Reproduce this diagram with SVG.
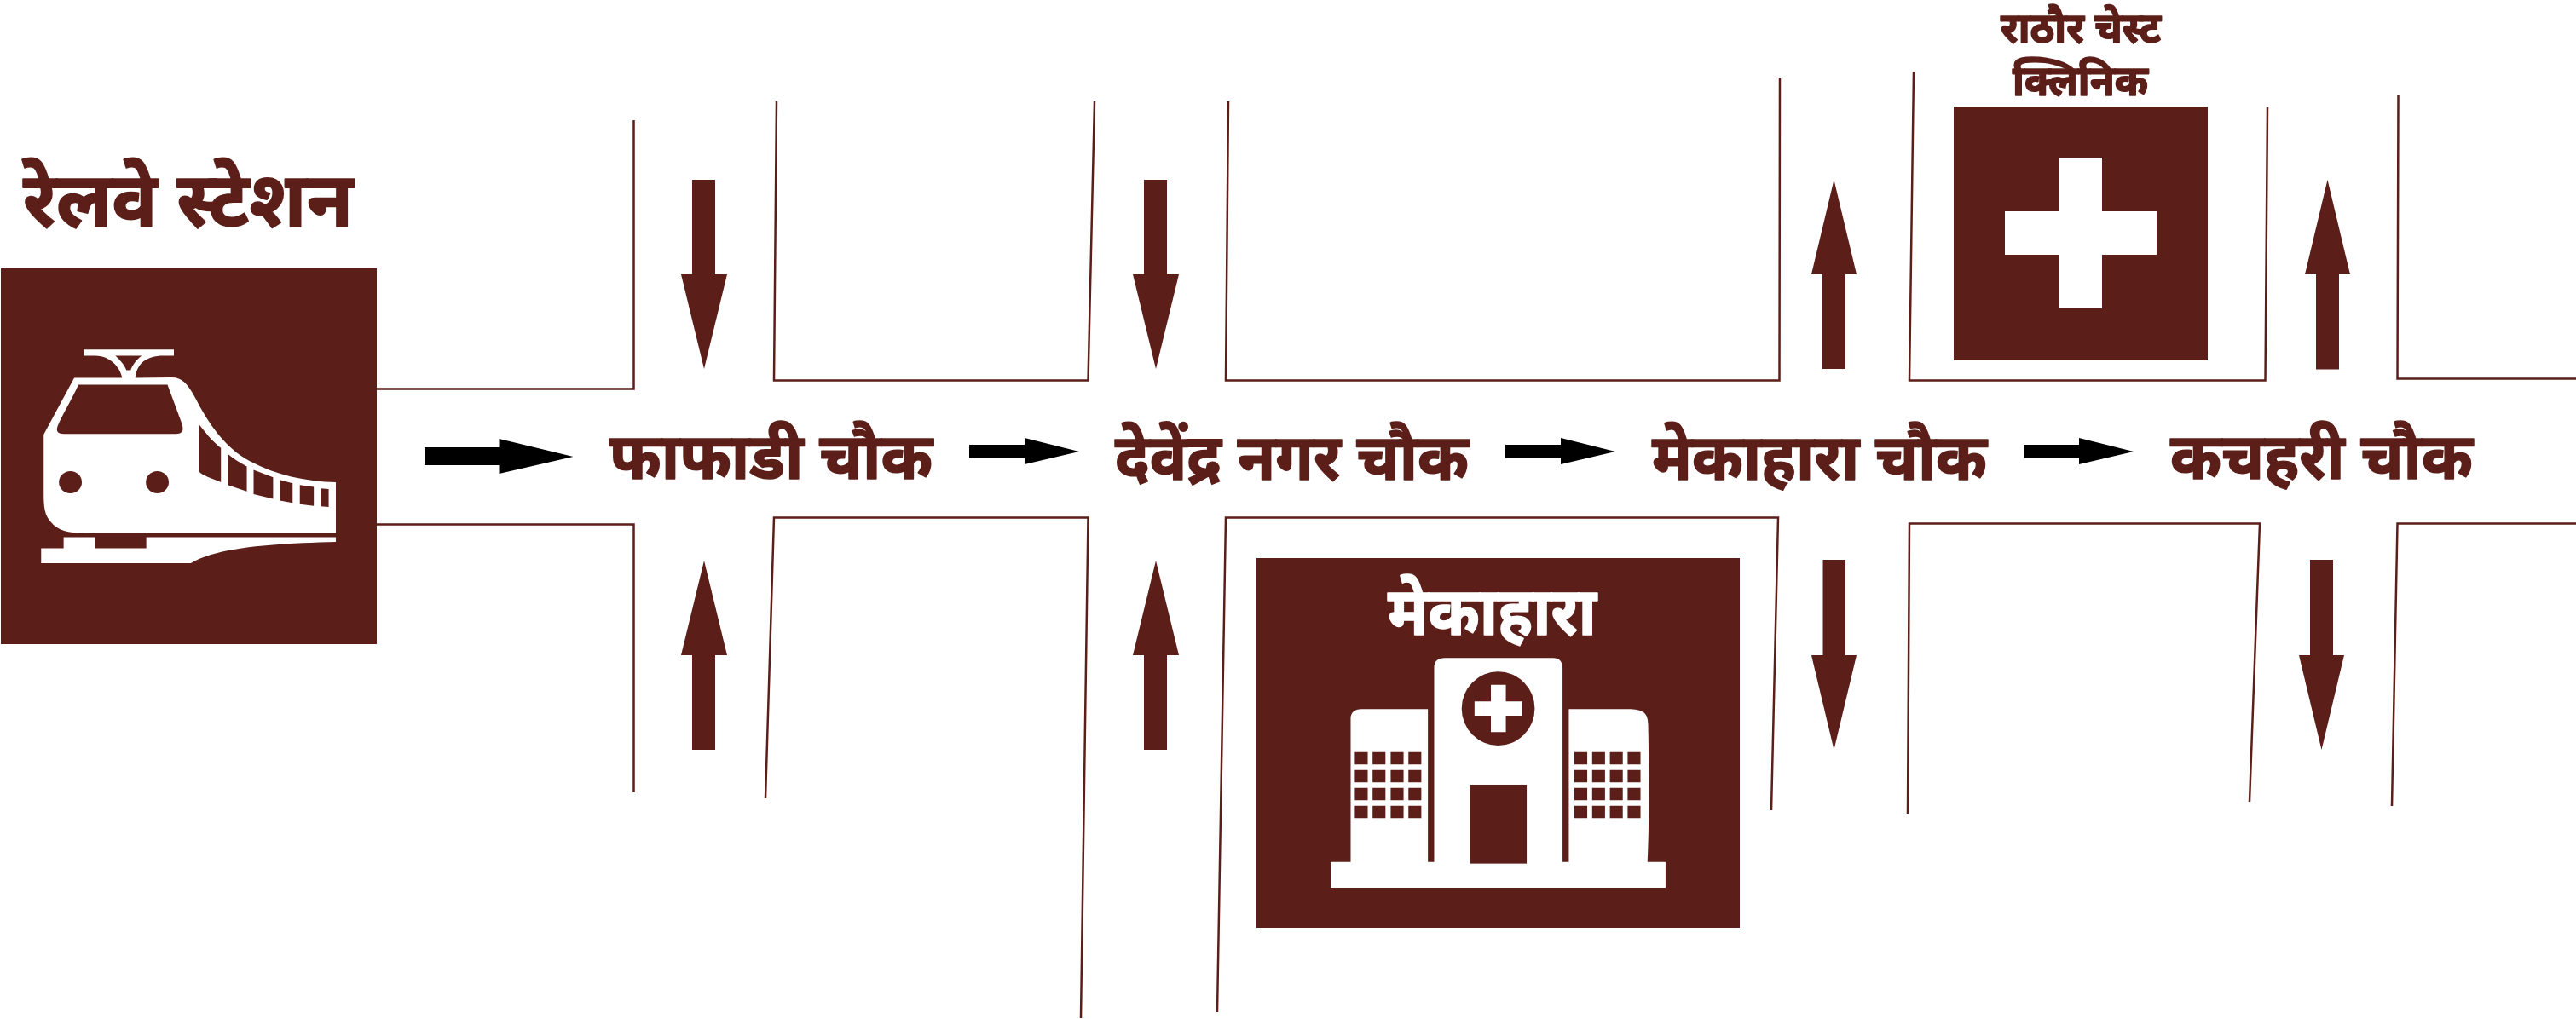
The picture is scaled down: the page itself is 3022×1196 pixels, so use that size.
<svg xmlns="http://www.w3.org/2000/svg" width="3022" height="1196" viewBox="0 0 3022 1196">
<style>
.bg{fill:#fff}
.d{fill:#5b1e18}
.w{fill:#fff}
.k{fill:#000}
.r{fill:none;stroke:#5b1e18;stroke-width:2.5;stroke-linejoin:miter}
text{font-family:"Noto Sans Devanagari","Lohit Devanagari","Noto Sans","Liberation Sans",sans-serif;font-weight:700;text-anchor:start;stroke-width:1.6;stroke-linejoin:round}
.t{fill:#5b1e18;stroke:#5b1e18}
.tw{fill:#fff;stroke:#fff}
</style>
<defs>
<path id="ad" d="M812 211H839V322H853L826 433L799 322H812Z"/>
<path id="au" d="M812 880H839V769H853L826 658L799 769H812Z"/>
<path id="ar" d="M1137 522H1202V514L1266 530L1202 545V537.500H1137Z"/>
</defs>
<rect class="bg" width="3022" height="1196"/>
<g id="roads">
<path class="r" d="M441 456.500H743.500V141"/>
<path class="r" d="M441 615.500H743.500V930"/>
<path class="r" d="M911 119L908 446.500H1276.500L1284 119"/>
<path class="r" d="M898 937L908 607.500H1276.500L1268 1195"/>
<path class="r" d="M1441 119L1438 446.500H2087.500L2088 91"/>
<path class="r" d="M1428 1188L1438 607.500H2086L2078 951"/>
<path class="r" d="M2245 84L2240 446.500H2657.500L2660 126"/>
<path class="r" d="M2238 955L2240 614.500H2651L2639 941"/>
<path class="r" d="M2813.500 112L2812.500 444.500H3022"/>
<path class="r" d="M2806 946L2812.500 614.500H3022"/>
</g>
<g id="connectors">
<use href="#ad" class="d"/>
<use href="#ad" class="d" x="530"/>
<use href="#au" class="d"/>
<use href="#au" class="d" x="530"/>
<path class="d" d="M2138 433H2165V322H2178L2151.500 211L2125 322H2138Z"/>
<path class="d" d="M2717 433.500H2744V322H2757L2730.500 211L2704 322H2717Z"/>
<path class="d" d="M2138.500 657H2165V769H2178L2151.500 880L2125 769H2138.500Z"/>
<path class="d" d="M2710 657H2737V769H2750L2723.500 880L2697 769H2710Z"/>
<path class="k" d="M498 525H585.500V515L672.500 536L585.500 556V546H498Z"/>
<use href="#ar" class="k"/>
<use href="#ar" class="k" x="629"/>
<use href="#ar" class="k" x="1237"/>
</g>
<g id="station">
<text class="t" x="27" y="266" font-size="90" textLength="387" lengthAdjust="spacingAndGlyphs">रेलवे स्टेशन</text>
<rect class="d" x="1" y="315" width="441" height="441"/>
<g transform="translate(0 160) scale(.4975 .3954)">
<path class="w" d="M197 633H410V651H385C345 651 322 675 319 717L405 716C430 716 442 735 460 775C490 850 530 925 590 965C650 1005 720 1025 792 1027V1177H220C170 1180 140 1175 120 1145C105 1125 103 1100 103 1060V885L175 717H288C285 690 262 651 225 651H197Z"/>
<path class="d" d="M272 651H334C320 665 312 680 308 694H298C292 675 282 663 272 651Z"/>
<path class="d" d="M185 737H395L428 850C435 875 430 883 415 883H150C135 883 132 875 136 860C145 830 170 780 185 737Z"/>
<ellipse class="d" cx="166" cy="1027" rx="27" ry="33"/>
<ellipse class="d" cx="371" cy="1027" rx="27" ry="33"/>
<path class="d" d="M469 855C485 880 500 905 521 925V1027C500 1015 480 1008 469 995Z"/>
<path class="d" d="M537 943C550 958 565 968 582 980V1054L537 1035Z"/>
<path class="d" d="M598 990L644 1012V1076L598 1062Z"/>
<path class="d" d="M660 1020L690 1030V1088L660 1081Z"/>
<path class="d" d="M707 1035L740 1041V1097L707 1092Z"/>
<path class="d" d="M756 1045L775 1047V1100L756 1098Z"/>
<path class="w" d="M150 1190H225V1223H345V1190H792V1204C650 1208 510 1220 450 1267H97V1223H150Z"/>
</g>
</g>
<g id="phaphadih"><text class="t" x="715" y="562" font-size="76" textLength="379" lengthAdjust="spacingAndGlyphs">फाफाडी चौक</text></g>
<g id="devendra"><text class="t" x="1308" y="563" font-size="76" textLength="415" lengthAdjust="spacingAndGlyphs">देवेंद्र नगर चौक</text></g>
<g id="mekahara-chowk"><text class="t" x="1938" y="563" font-size="76" textLength="393" lengthAdjust="spacingAndGlyphs">मेकाहारा चौक</text></g>
<g id="kachahari"><text class="t" x="2546" y="562" font-size="76" textLength="355" lengthAdjust="spacingAndGlyphs">कचहरी चौक</text></g>
<g id="clinic">
<text class="t" x="2347" y="50" font-size="50" textLength="188" lengthAdjust="spacingAndGlyphs">राठौर चेस्ट</text>
<text class="t" x="2361" y="112" font-size="50" textLength="159" lengthAdjust="spacingAndGlyphs">क्लिनिक</text>
<rect class="d" x="2292" y="125" width="298" height="298"/>
<path class="w" d="M2416 185H2466V248H2530V299H2466V362H2416V299H2352V248H2416Z"/>
</g>
<g id="hospital">
<rect class="d" x="1474" y="655" width="567" height="434"/>
<text class="tw" x="1628" y="745" font-size="78" textLength="245" lengthAdjust="spacingAndGlyphs">मेकाहारा</text>
<g transform="translate(1440 640) scale(.4082 .3333)">
<path class="w" d="M297 1115H354V610C354 590 365 577 385 577H576V1115H594V430C594 408 605 397 625 397H935C955 397 963 410 963 435V1115H981V577H1150C1195 577 1208 590 1209 630C1212 800 1212 1000 1207 1115H1259V1206H297Z"/>
<ellipse class="d" cx="778" cy="575" rx="105" ry="130"/>
<path class="w" d="M757 491H800V550H847V600H800V658H757V600H710V550H757Z"/>
<rect class="d" x="697" y="843" width="163" height="278"/>
<path class="d" d="M366 728h37v44h-37zM417 728h37v44h-37zM469 728h37v44h-37zM520 728h37v44h-37zM366 791h37v44h-37zM417 791h37v44h-37zM469 791h37v44h-37zM520 791h37v44h-37zM366 854h37v44h-37zM417 854h37v44h-37zM469 854h37v44h-37zM520 854h37v44h-37zM366 917h37v44h-37zM417 917h37v44h-37zM469 917h37v44h-37zM520 917h37v44h-37z"/>
<path class="d" d="M997 728h37v44h-37zM1048 728h37v44h-37zM1099 728h37v44h-37zM1150 728h37v44h-37zM997 791h37v44h-37zM1048 791h37v44h-37zM1099 791h37v44h-37zM1150 791h37v44h-37zM997 854h37v44h-37zM1048 854h37v44h-37zM1099 854h37v44h-37zM1150 854h37v44h-37zM997 917h37v44h-37zM1048 917h37v44h-37zM1099 917h37v44h-37zM1150 917h37v44h-37z"/>
</g>
</g>
</svg>
